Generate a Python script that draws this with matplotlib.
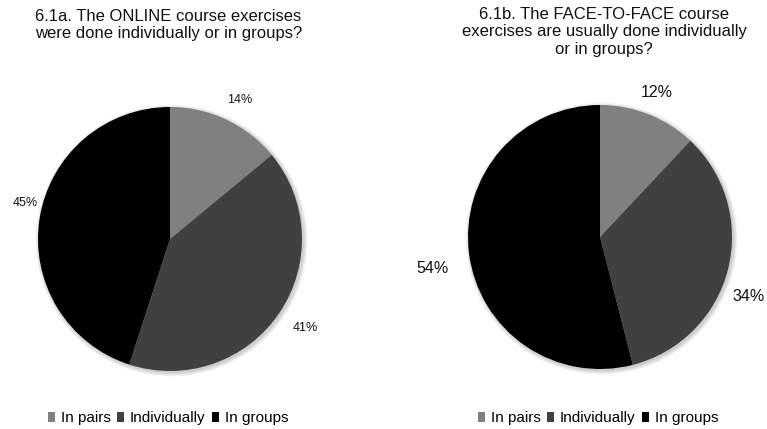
import matplotlib
matplotlib.use("Agg")
import matplotlib.pyplot as plt
from matplotlib.patches import Patch, Circle
import numpy as np

plt.rcParams['font.family'] = ['Liberation Sans', 'DejaVu Sans']

categories = ["In pairs", "Individually", "In groups"]
online_values = [14, 41, 45]
f2f_values = [12, 34, 54]
online_title = "6.1a. The ONLINE course exercises\nwere done individually or in groups?"
f2f_title = "6.1b. The FACE-TO-FACE course\nexercises are usually done individually\nor in groups?"
colors = ["#808080", "#404040", "#000000"]

# label placement around each pie: (radius in pie units, angle in degrees)
online_label_pos = [(1.18, 63.3), (1.225, -33.4), (1.13, 166.0)]
f2f_label_pos = [(1.18, 68.5), (1.21, -22.0), (1.29, 190.5)]

W, H = 767, 429
fig = plt.figure(figsize=(W / 100, H / 100), dpi=100)
fig.patch.set_facecolor("white")


def px_axes(cx, cy, r):
    return fig.add_axes([(cx - r) / W, (H - cy - r) / H, 2 * r / W, 2 * r / H])


def draw_pie(ax, values, label_pos, fontsize):
    # soft drop shadow under the pie
    for k in range(6):
        ax.add_patch(Circle((0.012, -0.012), 1.0 + 0.006 * k, facecolor="#000000",
                            edgecolor="none", alpha=0.035, zorder=0))
    ax.pie(values, colors=colors, startangle=90, counterclock=False,
           radius=1.0, wedgeprops=dict(linewidth=0, zorder=1))
    for v, (d, a) in zip(values, label_pos):
        ang = np.deg2rad(a)
        ax.text(d * np.cos(ang), d * np.sin(ang), f"{v}%", ha="center", va="center",
                fontsize=fontsize, color="#111111")
    ax.set_xlim(-1, 1)
    ax.set_ylim(-1, 1)
    ax.set_aspect("equal")
    ax.axis("off")


ax1 = px_axes(170, 239, 132)
draw_pie(ax1, online_values, online_label_pos, 9)
ax2 = px_axes(600, 237, 132)
draw_pie(ax2, f2f_values, f2f_label_pos, 11.5)
for ax in (ax1, ax2):
    for p in ax.patches:
        p.set_clip_on(False)

fig.text(35 / W, 1 - 9 / H, online_title, ha="left", va="top", fontsize=12,
         linespacing=1.2, color="#111111")
fig.text(604 / W, 1 - 7 / H, f2f_title, ha="center", va="top", fontsize=12,
         linespacing=1.2, color="#111111")

handles = [Patch(facecolor=c, edgecolor="none") for c in colors]
for x0 in (48, 478):
    fig.legend(handles, categories, loc="center left",
               bbox_to_anchor=(x0 / W, 1 - 418 / H), ncol=3, frameon=False,
               fontsize=11, handlelength=0.45, handleheight=0.65,
               handletextpad=0.4, columnspacing=0.4, borderaxespad=0, borderpad=0)

fig.savefig("out.png", dpi=100, facecolor="white")
